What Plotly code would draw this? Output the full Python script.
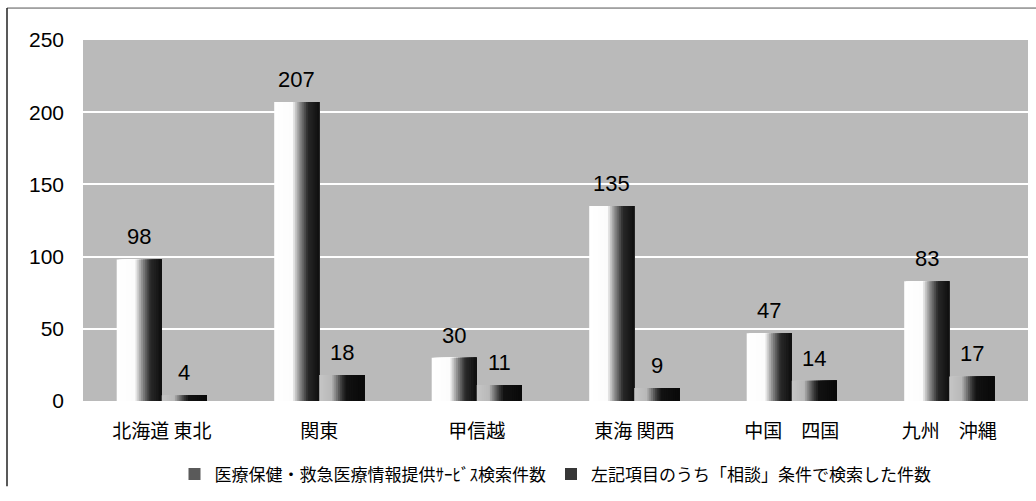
import plotly.graph_objects as go

# Regions (x categories)
categories = ["北海道 東北", "関東", "甲信越", "東海 関西", "中国　四国", "九州　沖縄"]
# Search counts per region
search_counts = [98, 207, 30, 135, 47, 83]
consult_counts = [4, 18, 11, 9, 14, 17]
series_names = [
    "医療保健・救急医療情報提供ｻｰﾋﾞｽ検索件数",
    "左記項目のうち「相談」条件で検索した件数",
]
y_ticks = [0, 50, 100, 150, 200, 250]

JP_FONT = "Noto Sans CJK JP"
NUM_FONT = "Liberation Sans, Arial, sans-serif"

BAR_W = 0.286      # width of one bar in category units
N_STRIPS = 24      # vertical strips used to shade each bar like a cylinder

# Layout geometry (pixels)
L, R, T, B = 83, 8, 40, 88
W, H = 1036, 501
pw, ph = W - L - R, H - T - B
CAT_PX = pw / len(categories)


def interp(stops, t):
    for (t0, v0), (t1, v1) in zip(stops, stops[1:]):
        if t0 <= t <= t1:
            f = 0 if t1 == t0 else (t - t0) / (t1 - t0)
            return v0 + (v1 - v0) * f
    return stops[-1][1]


LIGHT_STOPS = [(0, 255), (0.40, 252), (0.55, 150), (0.75, 40), (1.0, 15)]
DARK_STOPS = [(0, 198), (0.27, 185), (0.50, 55), (0.60, 18), (1.0, 8)]


def gray(v):
    v = int(round(v))
    return f"rgb({v},{v},{v})"


fig = go.Figure()
annotations = []


def add_series(values, name, stops, start, legend_gray):
    step = BAR_W / N_STRIPS
    # each strip runs to the right edge of the bar; later strips cover earlier
    # ones, so the shading has no seams between strips
    for i in range(N_STRIPS):
        t = (i + 0.5) / N_STRIPS
        fig.add_trace(go.Bar(
            x=categories, y=values,
            offset=start + i * step, width=BAR_W - i * step,
            marker=dict(color=gray(interp(stops, t)), line=dict(width=0)),
            showlegend=False, hoverinfo="skip",
        ))
    # value labels, centred over each bar and lifted slightly above it
    centre_shift = (start + BAR_W / 2) * CAT_PX
    for cat, v in zip(categories, values):
        annotations.append(dict(
            x=cat, y=v, xref="x", yref="y", text=str(v), showarrow=False,
            xanchor="center", yanchor="bottom", xshift=centre_shift, yshift=8,
            font=dict(family=NUM_FONT, size=22, color="black"),
        ))
    # legend swatch
    fig.add_trace(go.Bar(
        x=[categories[0]], y=[0], name=name,
        marker=dict(color=legend_gray, line=dict(width=0)),
        showlegend=True, hoverinfo="skip",
    ))


add_series(search_counts, series_names[0], LIGHT_STOPS, -BAR_W, "rgb(90,90,90)")
add_series(consult_counts, series_names[1], DARK_STOPS, 0.0, "rgb(55,55,55)")


def px_x(p):
    return (p - L) / pw


def px_y(p):
    return (H - B - p) / ph


# Frame around the chart (top and left edges visible)
shapes = [
    dict(type="line", xref="paper", yref="paper",
         x0=px_x(7), x1=px_x(1036), y0=px_y(7), y1=px_y(7),
         line=dict(color="#555555", width=1)),
    dict(type="line", xref="paper", yref="paper",
         x0=px_x(7), x1=px_x(7), y0=px_y(7), y1=px_y(501),
         line=dict(color="#222222", width=1.5)),
]

fig.update_layout(
    width=W, height=H,
    margin=dict(l=L, r=R, t=T, b=B),
    barmode="overlay",
    paper_bgcolor="white",
    plot_bgcolor="#bababa",
    shapes=shapes,
    annotations=annotations,
    legend=dict(
        orientation="h", x=0.5, xanchor="center",
        y=px_y(489), yanchor="middle",
        font=dict(family=JP_FONT, size=17, color="black"),
        itemwidth=30, traceorder="normal",
        bgcolor="rgba(0,0,0,0)",
    ),
    xaxis=dict(
        type="category", categoryorder="array", categoryarray=categories,
        range=[-0.5, 5.5], showgrid=False, zeroline=False, showline=False,
        ticks="", tickfont=dict(family=JP_FONT, size=19, color="black"),
        ticklabelstandoff=17,
    ),
    yaxis=dict(
        range=[0, 250], tickvals=y_ticks, showgrid=True,
        gridcolor="white", gridwidth=2, zeroline=False, showline=False,
        ticks="", tickfont=dict(family=NUM_FONT, size=21, color="black"),
        ticklabelstandoff=18,
    ),
    font=dict(family=JP_FONT),
)

fig.write_html("out.html")
